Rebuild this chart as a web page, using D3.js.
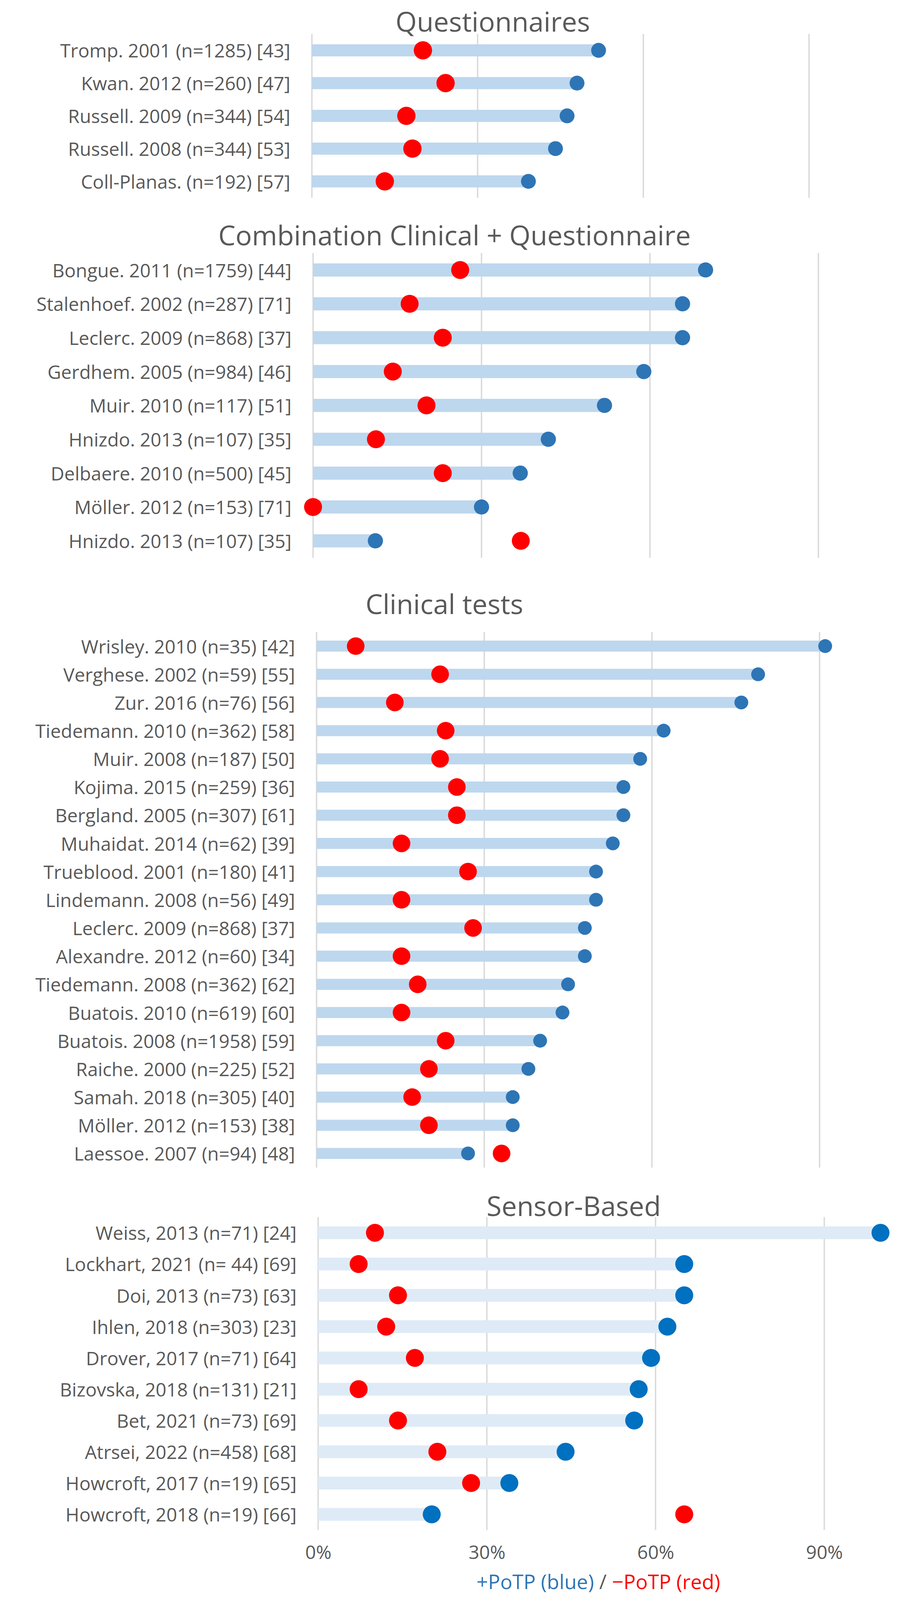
<!DOCTYPE html>
<html><head><meta charset="utf-8">
<script src="https://cdn.jsdelivr.net/npm/d3@7/dist/d3.min.js"></script>
<style>
html,body{margin:0;padding:0;background:#fff;overflow:hidden}
svg{display:block}
text{font-family:"Open Sans","Noto Sans",sans-serif}
</style>
</head><body>
<svg id="chart"></svg>
<script>
// ---------- DATA ----------
const qTitle = "Questionnaires";
const qLabels = ["Tromp. 2001 (n=1285) [43]","Kwan. 2012 (n=260) [47]","Russell. 2009 (n=344) [54]","Russell. 2008 (n=344) [53]","Coll-Planas. (n=192) [57]"];
const qPos = [51.9, 48.0, 46.2, 44.1, 39.2];
const qNeg = [20.1, 24.2, 17.1, 18.2, 13.2];

const cTitle = "Combination Clinical + Questionnaire";
const cLabels = ["Bongue. 2011 (n=1759) [44]","Stalenhoef. 2002 (n=287) [71]","Leclerc. 2009 (n=868) [37]","Gerdhem. 2005 (n=984) [46]","Muir. 2010 (n=117) [51]","Hnizdo. 2013 (n=107) [35]","Delbaere. 2010 (n=500) [45]","Möller. 2012 (n=153) [71]","Hnizdo. 2013 (n=107) [35]"];
const cPos = [69.9, 65.8, 65.8, 58.9, 51.9, 41.9, 36.9, 30.0, 11.1];
const cNeg = [26.2, 17.2, 23.1, 14.2, 20.2, 11.2, 23.1, 0.0, 37.0];

const tTitle = "Clinical tests";
const tLabels = ["Wrisley. 2010 (n=35) [42]","Verghese. 2002 (n=59) [55]","Zur. 2016 (n=76) [56]","Tiedemann. 2010 (n=362) [58]","Muir. 2008 (n=187) [50]","Kojima. 2015 (n=259) [36]","Bergland. 2005 (n=307) [61]","Muhaidat. 2014 (n=62) [39]","Trueblood. 2001 (n=180) [41]","Lindemann. 2008 (n=56) [49]","Leclerc. 2009 (n=868) [37]","Alexandre. 2012 (n=60) [34]","Tiedemann. 2008  (n=362) [62]","Buatois. 2010 (n=619) [60]","Buatois. 2008 (n=1958) [59]","Raiche. 2000 (n=225) [52]","Samah. 2018 (n=305) [40]","Möller. 2012 (n=153) [38]","Laessoe. 2007 (n=94) [48]"];
const tPos = [91.0, 79.0, 76.0, 62.1, 57.9, 54.9, 54.9, 53.0, 50.0, 50.0, 48.0, 48.0, 45.0, 44.0, 40.0, 37.9, 35.1, 35.1, 27.1];
const tNeg = [7.0, 22.1, 14.0, 23.1, 22.1, 25.1, 25.1, 15.2, 27.1, 15.2, 28.0, 15.2, 18.1, 15.2, 23.1, 20.1, 17.1, 20.1, 33.1];

const sTitle = "Sensor-Based";
const sLabels = ["Weiss, 2013 (n=71) [24]","Lockhart, 2021 (n= 44) [69]","Doi, 2013 (n=73) [63]","Ihlen, 2018 (n=303) [23]","Drover, 2017  (n=71) [64]","Bizovska, 2018 (n=131) [21]","Bet, 2021 (n=73) [69]","Atrsei, 2022 (n=458) [68]","Howcroft, 2017 (n=19) [65]","Howcroft, 2018 (n=19) [66]"];
const sPos = [100.0, 65.1, 65.1, 62.1, 59.2, 57.0, 56.2, 44.0, 34.0, 20.2];
const sNeg = [10.1, 7.2, 14.2, 12.1, 17.2, 7.2, 14.2, 21.2, 27.2, 65.1];

const gridValues = [0, 30, 60, 90];
const tickLabels = ["0%", "30%", "60%", "90%"];
const legendParts = ["+PoTP (blue)", " / ", "\u2212PoTP (red)"];

// ---------- LAYOUT ----------
// Design height is 5324; if the viewport is shorter, vertical layout is compressed so everything stays visible.
const W = 2313, H = 5324;
const vh = window.innerHeight || H;
const k = Math.min(1, vh / H);
const f = Math.min(1, 0.5 + 0.5 * k);   // gentler shrink for text and marks
const Y = v => v * k;

const panels = [
  {title:qTitle, labels:qLabels, pos:qPos, neg:qNeg, x0:798, x90:2070, top:113, bottom:658, titleX:1261, titleY:69,
   barH:35, rRed:26.5, rBlue:21.5, barColor:"#bdd7ee", blue:"#2e75b6", axis:false},
  {title:cTitle, labels:cLabels, pos:cPos, neg:cNeg, x0:801, x90:2094, top:842, bottom:1856, titleX:1163, titleY:780,
   barH:38, rRed:26, rBlue:22, barColor:"#bdd7ee", blue:"#2e75b6", axis:false},
  {title:tTitle, labels:tLabels, pos:tPos, neg:tNeg, x0:810, x90:2097, top:2103, bottom:3885, titleX:1137, titleY:2007,
   barH:32, rRed:25.5, rBlue:20, barColor:"#bdd7ee", blue:"#2e75b6", axis:false},
  {title:sTitle, labels:sLabels, pos:sPos, neg:sNeg, x0:814, x90:2109, top:4050, bottom:5091, titleX:1468, titleY:4010,
   barH:37, rRed:26, rBlue:26, barColor:"#deebf7", blue:"#0070c0", axis:true}
];

const svg = d3.select("#chart").attr("width", W).attr("height", Math.floor(H * k));
svg.append("rect").attr("width", W).attr("height", H * k).attr("fill", "#fff");

panels.forEach(p => {
  const g = svg.append("g");
  const x = d3.scaleLinear().domain([0, 90]).range([p.x0, p.x90]);
  const y = d3.scaleBand().domain(p.labels.map((d,i)=>i)).range([Y(p.top), Y(p.bottom)]);
  const cy = i => y(i) + y.bandwidth()/2;
  const rows = p.labels.map((l,i)=>({label:l, pos:p.pos[i], neg:p.neg[i], i}));
  const bh = p.barH * f;

  g.append("text").attr("x", p.titleX).attr("y", Y(p.titleY))
    .attr("text-anchor","middle").attr("dominant-baseline","central")
    .attr("font-size", 76 * Math.max(f, 0.92)).attr("fill","#595959").text(p.title);

  g.selectAll("line.grid").data(gridValues).join("line")
    .attr("x1", d=>x(d)).attr("x2", d=>x(d))
    .attr("y1", Y(p.top)).attr("y2", Y(p.bottom))
    .attr("stroke","#d9d9d9").attr("stroke-width",3.5);

  g.selectAll("rect.bar").data(rows).join("rect")
    .attr("x", x(0)).attr("width", d=>x(d.pos)-x(0))
    .attr("y", d=>cy(d.i)-bh/2).attr("height", bh)
    .attr("fill", p.barColor);

  g.selectAll("circle.pos").data(rows).join("circle")
    .attr("cx", d=>x(d.pos)).attr("cy", d=>cy(d.i))
    .attr("r", p.rBlue * f).attr("fill", p.blue);

  g.selectAll("circle.neg").data(rows).join("circle")
    .attr("cx", d=>x(d.neg)).attr("cy", d=>cy(d.i))
    .attr("r", p.rRed * f).attr("fill", "#ff0000");

  g.selectAll("text.lab").data(rows).join("text")
    .attr("x", p.x0-55).attr("y", d=>cy(d.i))
    .attr("text-anchor","end").attr("dominant-baseline","central")
    .attr("font-size", 51 * Math.max(f, 0.94)).attr("fill","#595959").text(d=>d.label);

  if (p.axis) {
    const ax = g.append("g").attr("transform", `translate(0,${Y(p.bottom)})`)
      .call(d3.axisBottom(x).tickValues(gridValues).tickSize(0).tickPadding(Y(5167 - 5091) - 18)
        .tickFormat((d,i)=>tickLabels[i]));
    ax.select(".domain").remove();
    ax.selectAll("text").attr("font-size", 51 * Math.max(f, 0.94)).attr("fill","#595959")
      .style("font-family","'Open Sans','Noto Sans',sans-serif");

    const leg = svg.append("text").attr("x", 1531).attr("y", Y(5262))
      .attr("text-anchor","middle").attr("dominant-baseline","central")
      .attr("font-size", 55 * Math.max(f, 0.94));
    const cols = ["#2e75b6", "#595959", "#ff0000"];
    legendParts.forEach((t,i)=> leg.append("tspan").attr("fill", cols[i]).text(t));
  }
});
</script>
</body></html>
